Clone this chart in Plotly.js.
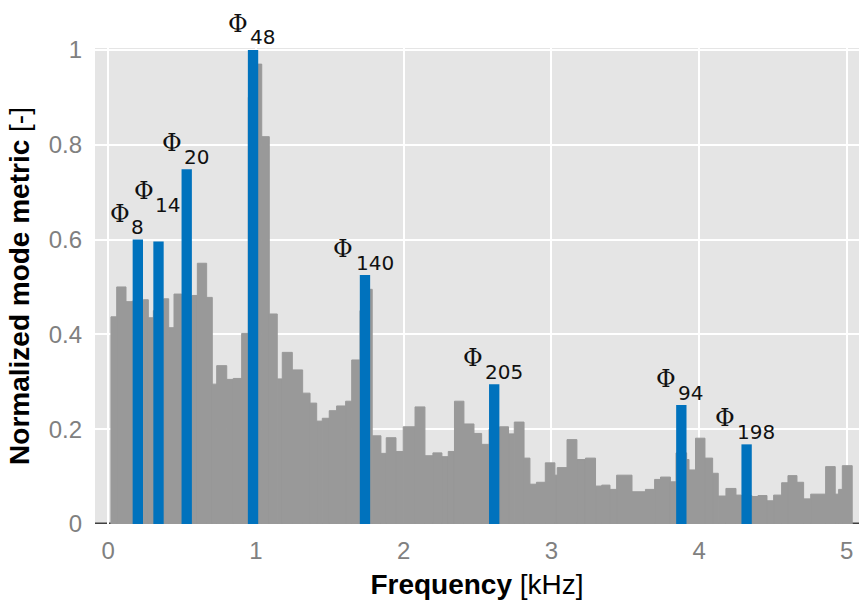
<!DOCTYPE html>
<html>
<head>
<meta charset="utf-8">
<script src="https://cdn.plot.ly/plotly-3.0.1.min.js"></script>
<style>html,body{margin:0;padding:0;background:#fff;}#chart{width:859px;height:602px;}</style>
</head>
<body>
<div id="chart"></div>
<script>
// Gray mode-metric steps: bin edges (kHz) and normalized values
const grayEdges = [0.018,0.057,0.120,0.162,0.237,0.271,0.305,0.375,0.409,0.445,0.497,0.567,0.603,0.666,0.704,0.734,0.802,0.846,0.903,0.948,
  1.012,1.039,1.090,1.144,1.178,1.246,1.316,1.366,1.411,1.449,1.496,1.546,1.607,1.648,1.704,1.772,1.787,1.846,1.882,1.948,
  1.997,2.077,2.144,2.198,2.259,2.302,2.344,2.408,2.476,2.528,2.578,2.649,2.710,2.749,2.815,2.855,2.899,2.959,3.024,3.040,
  3.106,3.173,3.231,3.299,3.341,3.397,3.442,3.546,3.637,3.699,3.739,3.806,3.844,3.916,3.932,3.976,4.040,4.092,4.130,4.182,
  4.250,4.287,4.358,4.399,4.460,4.505,4.559,4.602,4.663,4.708,4.756,4.857,4.922,4.945,4.970,5.037];
const grayValues = [0.437,0.500,0.469,0.470,0.473,0.435,0.450,0.475,0.414,0.485,0.480,0.482,0.550,0.478,0.295,0.334,0.305,0.307,0.402,0.900,
  0.970,0.817,0.443,0.306,0.362,0.325,0.276,0.255,0.217,0.223,0.239,0.249,0.259,0.346,0.450,0.495,0.186,0.149,0.182,0.153,
  0.205,0.247,0.144,0.150,0.142,0.153,0.259,0.211,0.191,0.168,0.200,0.205,0.190,0.215,0.139,0.084,0.088,0.129,0.103,0.119,
  0.178,0.136,0.139,0.080,0.082,0.073,0.103,0.068,0.073,0.094,0.099,0.089,0.150,0.136,0.114,0.181,0.139,0.107,0.059,0.075,
  0.061,0.060,0.058,0.060,0.049,0.061,0.087,0.102,0.088,0.053,0.063,0.121,0.063,0.073,0.123];

// Highlighted modes
const modeFreqs  = [0.200, 0.340, 0.531, 0.980, 1.738, 2.613, 3.880, 4.322];
const modeValues = [0.600, 0.596, 0.748, 1.000, 0.525, 0.295, 0.251, 0.168];
const modeLabels = ['8', '14', '20', '48', '140', '205', '94', '198'];

// ---- derived ----
const grayX = [], grayW = [];
for (let i = 0; i < grayValues.length; i++) {
  grayX.push((grayEdges[i] + grayEdges[i + 1]) / 2);
  grayW.push(grayEdges[i + 1] - grayEdges[i]);
}

const gray = {
  type: 'bar', x: grayX, y: grayValues, width: grayW,
  marker: {color: '#999999', line: {width: 1, color: '#999999'}},
  hoverinfo: 'skip'
};
const blue = {
  type: 'bar', x: modeFreqs, y: modeValues, width: modeFreqs.map(() => 0.07),
  marker: {color: '#0072bd', line: {width: 0}},
  hoverinfo: 'skip'
};

// label offsets (px) by digit count: [phi xshift, number xshift]
const offs = {1: [-17.5, -0.5], 2: [-15, 9.3], 3: [-21.7, 9.7]};
const lift = {'14': 24};
const annotations = [];
modeLabels.forEach((lab, i) => {
  const o = offs[lab.length];
  const extra = lift[lab] || 0;
  annotations.push({
    x: modeFreqs[i], y: modeValues[i], xref: 'x', yref: 'y',
    text: 'Φ', showarrow: false, xanchor: 'center', yanchor: 'middle',
    xshift: o[0], yshift: 26 + extra,
    font: {family: 'DejaVu Serif', size: 24, color: '#111'}
  });
  annotations.push({
    x: modeFreqs[i], y: modeValues[i], xref: 'x', yref: 'y',
    text: lab, showarrow: false, xanchor: 'center', yanchor: 'middle',
    xshift: o[1], yshift: 12.5 + extra,
    font: {family: 'DejaVu Sans', size: 20, color: '#111'}
  });
});

const layout = {
  width: 859, height: 602,
  margin: {l: 95, r: 0, t: 48, b: 78},
  paper_bgcolor: '#ffffff',
  plot_bgcolor: '#e5e5e5',
  barmode: 'overlay',
  showlegend: false,
  font: {family: 'Liberation Sans, Arial, sans-serif'},
  shapes: [{
    type: 'line', layer: 'below', xref: 'paper', x0: 0, x1: 1, yref: 'y', y0: 0, y1: 0,
    line: {color: '#404040', width: 3}
  }],
  xaxis: {
    range: [-0.09, 5.083],
    tickvals: [0, 1, 2, 3, 4, 5],
    ticktext: ['0', '1', '2', '3', '4', '5'],
    showgrid: true, gridcolor: '#ffffff', gridwidth: 2,
    zeroline: false,
    showline: false,
    ticks: '', ticklabelstandoff: 10,
    tickfont: {family: 'Liberation Sans', size: 24, color: '#808080'},
    title: {text: '<b>Frequency</b> [kHz]', standoff: 11,
            font: {family: 'Liberation Sans', size: 28, color: '#000'}}
  },
  yaxis: {
    range: [0, 1.004],
    tickvals: [0, 0.2, 0.4, 0.6, 0.8, 1],
    ticktext: ['0', '0.2', '0.4', '0.6', '0.8', '1'],
    showgrid: true, gridcolor: '#ffffff', gridwidth: 2,
    zeroline: false, showline: false,
    ticks: '', ticklabelstandoff: 12,
    tickfont: {family: 'Liberation Sans', size: 24, color: '#808080'},
    title: {text: '<b>Normalized mode metric</b> [-]', standoff: 10,
            font: {family: 'Liberation Sans', size: 28, color: '#000'}}
  },
  annotations: annotations
};

Plotly.newPlot('chart', [gray, blue], layout, {staticPlot: true, displayModeBar: false});
</script>
</body>
</html>
